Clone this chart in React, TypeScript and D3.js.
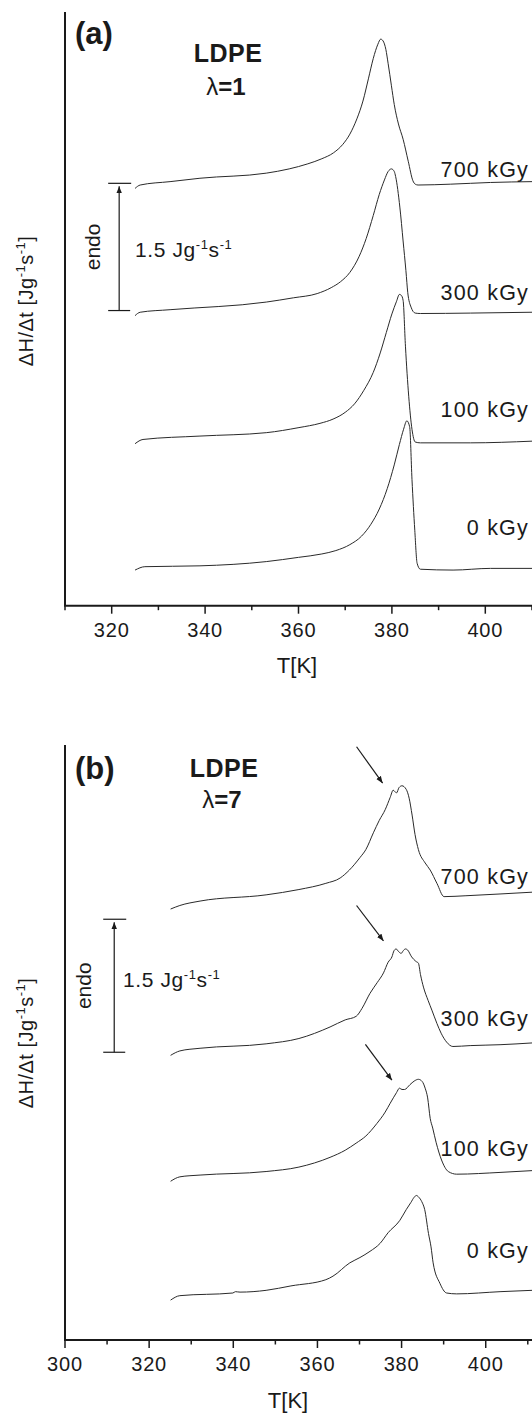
import * as d3 from "d3";

const W = 532;
const H = 1414;
const FONT = "'Liberation Sans', Arial, Helvetica, sans-serif";

type Pt = [number, number];

// dose labels, bottom to top
const doses = ["0 kGy", "100 kGy", "300 kGy", "700 kGy"];

// panel (a) LDPE λ=1 : [T (K), ΔH/Δt shifted (J/g/s)]
const a0: Pt[] = [[325.0, 0.42], [327.1, 0.46], [338.9, 0.47], [353.1, 0.52], [360.0, 0.57], [365.0, 0.61], [368.0, 0.65], [371.0, 0.72], [373.5, 0.82], [375.5, 0.96], [377.3, 1.14], [379.0, 1.38], [380.5, 1.66], [381.6, 1.90], [382.5, 2.08], [383.2, 2.18], [383.8, 2.11], [384.3, 1.49], [384.9, 0.89], [385.4, 0.50], [386.1, 0.43], [393.1, 0.42], [401.1, 0.44], [410, 0.44]];
const a100: Pt[] = [[325.0, 1.91], [326.7, 1.96], [338.9, 2.00], [353.1, 2.04], [360.1, 2.10], [364.6, 2.15], [367.4, 2.20], [370.0, 2.28], [372.0, 2.38], [374.0, 2.54], [376.0, 2.75], [377.5, 2.98], [378.8, 3.22], [380.0, 3.44], [381.0, 3.59], [381.6, 3.67], [382.0, 3.66], [382.4, 3.60], [382.9, 3.06], [383.6, 2.47], [384.3, 2.08], [385.0, 1.93], [386.1, 1.92], [396.8, 1.92], [410, 1.94]];
const a300: Pt[] = [[325.0, 3.42], [326.1, 3.46], [332.5, 3.49], [353.1, 3.58], [358.9, 3.63], [364.0, 3.68], [367.0, 3.75], [369.0, 3.82], [371.0, 3.93], [373.0, 4.12], [374.5, 4.33], [376.0, 4.60], [377.3, 4.85], [378.4, 5.02], [379.2, 5.12], [379.9, 5.15], [380.5, 5.12], [380.8, 5.06], [381.7, 4.70], [382.4, 4.30], [383.0, 3.95], [383.4, 3.69], [384.1, 3.52], [385.0, 3.45], [386.1, 3.445], [396.8, 3.45], [410, 3.46]];
const a700: Pt[] = [[325.0, 4.92], [326.1, 4.96], [332.5, 5.00], [338.9, 5.04], [353.1, 5.10], [358.0, 5.15], [362.0, 5.21], [365.0, 5.27], [367.5, 5.34], [369.5, 5.44], [371.0, 5.56], [372.5, 5.74], [373.8, 5.95], [375.0, 6.22], [376.0, 6.45], [377.0, 6.62], [377.6, 6.68], [378.1, 6.66], [378.7, 6.56], [379.2, 6.39], [379.9, 6.13], [380.5, 5.91], [381.4, 5.68], [382.4, 5.50], [383.5, 5.24], [384.5, 5.01], [385.0, 4.97], [385.6, 4.96], [392.5, 4.97], [401.1, 4.99], [410, 5.00]];

// panel (b) LDPE λ=7
const b0: Pt[] = [[325.1, 0.45], [327.3, 0.50], [339.9, 0.53], [340.5, 0.545], [341.6, 0.54], [347.8, 0.56], [353.7, 0.61], [362.0, 0.68], [363.7, 0.72], [367.7, 0.87], [370.1, 0.93], [372.5, 1.00], [374.9, 1.09], [376.8, 1.21], [379.6, 1.35], [381.1, 1.47], [382.2, 1.55], [383.0, 1.61], [383.5, 1.63], [384.1, 1.61], [384.8, 1.56], [385.5, 1.47], [386.4, 1.20], [387.0, 1.05], [387.5, 0.87], [389.1, 0.64], [390.7, 0.53], [393.1, 0.52], [403.4, 0.545], [411, 0.56]];
const b100: Pt[] = [[325.1, 1.79], [327.3, 1.84], [332.1, 1.86], [347.8, 1.90], [355.6, 1.95], [363.0, 2.06], [366.6, 2.14], [369.2, 2.22], [371.5, 2.30], [374.1, 2.44], [376.1, 2.57], [377.3, 2.67], [378.8, 2.79], [379.5, 2.84], [380.1, 2.825], [380.7, 2.825], [382.0, 2.88], [383.0, 2.92], [384.0, 2.94], [384.9, 2.915], [385.6, 2.84], [386.2, 2.73], [386.8, 2.50], [387.4, 2.39], [388.2, 2.23], [389.5, 2.03], [391.1, 1.90], [393.1, 1.87], [403.4, 1.89], [411, 1.91]];
const b300: Pt[] = [[325.1, 3.21], [327.3, 3.26], [332.1, 3.29], [347.8, 3.34], [355.6, 3.40], [363.0, 3.53], [366.6, 3.61], [369.2, 3.65], [370.6, 3.74], [372.5, 3.91], [374.2, 4.03], [375.7, 4.14], [376.8, 4.26], [377.7, 4.32], [378.2, 4.39], [378.7, 4.41], [379.3, 4.38], [379.9, 4.36], [380.4, 4.39], [380.9, 4.41], [381.4, 4.40], [382.4, 4.32], [383.4, 4.27], [384.0, 4.25], [384.5, 4.12], [385.2, 3.98], [386.3, 3.83], [387.2, 3.72], [388.4, 3.57], [389.4, 3.46], [390.7, 3.36], [392.2, 3.31], [396.3, 3.32], [403.4, 3.33], [411, 3.35]];
const b700: Pt[] = [[325.1, 4.86], [327.3, 4.90], [332.1, 4.95], [347.8, 5.02], [355.6, 5.08], [362.0, 5.15], [365.4, 5.21], [367.6, 5.30], [370.1, 5.44], [371.5, 5.53], [373.3, 5.72], [374.7, 5.86], [376.1, 5.98], [377.3, 6.12], [378.0, 6.20], [378.8, 6.17], [379.4, 6.23], [380.1, 6.25], [381.1, 6.21], [381.8, 6.11], [382.5, 5.92], [383.2, 5.70], [384.0, 5.53], [385.6, 5.38], [386.8, 5.30], [388.4, 5.15], [390.1, 5.00], [395.3, 5.01], [403.4, 5.03], [411, 5.05]];

// arrows pointing at the low-T shoulder in (b): [T1, v1, T2, v2]
const arrowsB: [number, number, number, number][] = [
  [369.3, 6.69, 375.5, 6.28],
  [369.3, 4.90, 375.7, 4.50],
  [371.4, 3.335, 377.7, 2.93],
];

interface PanelCfg {
  tag: string;
  lambda: string;
  xDomain: [number, number];
  yDomain: [number, number];
  top: number;
  bottom: number;
  curves: Pt[][];
  doseY: number[];
  scaleBar: { T: number; from: number; to: number; endoX: number; textX: number; textY: number };
  arrows: [number, number, number, number][];
  head: { tagY: number; ldpeX: number; ldpeY: number; lamY: number };
  yLabel: { x: number; y: number };
  xLabel: { x: number; y: number };
}

const panels: PanelCfg[] = [
  {
    tag: "(a)",
    lambda: "1",
    xDomain: [310, 410],
    yDomain: [0, 7],
    top: 12,
    bottom: 605.7,
    curves: [a0, a100, a300, a700],
    doseY: [0.83, 2.22, 3.61, 5.06],
    scaleBar: { T: 321.6, from: 3.48, to: 4.98, endoX: 100, textX: 135, textY: 257 },
    arrows: [],
    head: { tagY: 44, ldpeX: 228, ldpeY: 62, lamY: 95 },
    yLabel: { x: 33, y: 301 },
    xLabel: { x: 297, y: 673 },
  },
  {
    tag: "(b)",
    lambda: "7",
    xDomain: [300, 411],
    yDomain: [0, 6.71],
    top: 745,
    bottom: 1340,
    curves: [b0, b100, b300, b700],
    doseY: [0.92, 2.07, 3.54, 5.14],
    scaleBar: { T: 311.7, from: 3.245, to: 4.745, endoX: 91, textX: 123, textY: 987 },
    arrows: arrowsB,
    head: { tagY: 779, ldpeX: 224, ldpeY: 777, lamY: 808 },
    yLabel: { x: 33, y: 1043 },
    xLabel: { x: 288, y: 1408 },
  },
];

const INK = "#1a1a1a";

const Sup = ({ children }: { children: string }) => (
  <tspan dy={-8} fontSize={13}>
    {children}
  </tspan>
);

const Panel = ({ cfg, idx }: { cfg: PanelCfg; idx: number }) => {
  const x = d3.scaleLinear().domain(cfg.xDomain).range([65, 532]);
  const y = d3.scaleLinear().domain(cfg.yDomain).range([cfg.bottom, cfg.top]);
  const line = d3
    .line<Pt>()
    .x((d) => x(d[0]))
    .y((d) => y(d[1]))
    .curve(d3.curveMonotoneX);

  // ticks every 10 K, labels every 20 K
  const ticks = d3.range(Math.ceil(cfg.xDomain[0] / 10) * 10, cfg.xDomain[1] + 0.01, 10);
  const labelTicks = ticks.filter((t) => t % 20 === 0 && t <= 400);

  const sb = cfg.scaleBar;
  const sbx = x(sb.T);
  const mk = `arr${idx}`;

  return (
    <g fontFamily={FONT} fill={INK}>
      <defs>
        <marker id={mk} viewBox="0 0 10 10" refX="10" refY="5" markerWidth="7" markerHeight="7" orient="auto" markerUnits="userSpaceOnUse">
          <path d="M0,1 L10,5 L0,9 Z" fill={INK} />
        </marker>
      </defs>

      {/* axes */}
      <line x1={65} x2={65} y1={cfg.top} y2={cfg.bottom} stroke={INK} strokeWidth={2} />
      <line x1={64} x2={532} y1={cfg.bottom} y2={cfg.bottom} stroke={INK} strokeWidth={2} />
      {ticks.map((t) => (
        <line key={t} x1={x(t)} x2={x(t)} y1={cfg.bottom} y2={cfg.bottom + (t % 20 === 0 ? 8 : 4.5)} stroke={INK} strokeWidth={1.5} />
      ))}
      {labelTicks.map((t) => (
        <text key={t} x={x(t)} y={cfg.bottom + 31} textAnchor="middle" fontSize={20} letterSpacing={0.8}>
          {t}
        </text>
      ))}
      <text x={cfg.xLabel.x} y={cfg.xLabel.y} textAnchor="middle" fontSize={22}>
        T[K]
      </text>
      <text transform={`translate(${cfg.yLabel.x},${cfg.yLabel.y}) rotate(-90)`} textAnchor="middle" fontSize={20} letterSpacing={0.5}>
        <tspan>ΔH/Δt [Jg</tspan>
        <Sup>-1</Sup>
        <tspan dy={8}>s</tspan>
        <Sup>-1</Sup>
        <tspan dy={8}>]</tspan>
      </text>

      {/* curves */}
      {cfg.curves.map((c, i) => (
        <path key={i} d={line(c) ?? ""} fill="none" stroke="#2a2a2a" strokeWidth={1} />
      ))}
      {doses.map((d, i) => (
        <text key={d} x={529} y={y(cfg.doseY[i])} textAnchor="end" fontSize={21.5} letterSpacing={1.2}>
          {d}
        </text>
      ))}

      {/* shoulder arrows */}
      {cfg.arrows.map((a, i) => (
        <line key={i} x1={x(a[0])} y1={y(a[1])} x2={x(a[2])} y2={y(a[3])} stroke={INK} strokeWidth={1.2} markerEnd={`url(#${mk})`} />
      ))}

      {/* scale bar */}
      <line x1={sbx - 11} x2={sbx + 12} y1={y(sb.to)} y2={y(sb.to)} stroke={INK} strokeWidth={1.2} />
      <line x1={sbx - 11} x2={sbx + 11} y1={y(sb.from)} y2={y(sb.from)} stroke={INK} strokeWidth={1.2} />
      <line x1={sbx} x2={sbx} y1={y(sb.from)} y2={y(sb.to) + 3} stroke={INK} strokeWidth={1.2} markerEnd={`url(#${mk})`} />
      <text transform={`translate(${sb.endoX},${(y(sb.from) + y(sb.to)) / 2}) rotate(-90)`} textAnchor="middle" fontSize={21}>
        endo
      </text>
      <text x={sb.textX} y={sb.textY} fontSize={21} letterSpacing={0.6}>
        <tspan>1.5 Jg</tspan>
        <Sup>-1</Sup>
        <tspan dy={8}>s</tspan>
        <Sup>-1</Sup>
      </text>

      {/* headings */}
      <text x={75} y={cfg.head.tagY} fontSize={31} fontWeight="bold">
        {cfg.tag}
      </text>
      <text x={cfg.head.ldpeX} y={cfg.head.ldpeY} textAnchor="middle" fontSize={25} fontWeight="bold" letterSpacing={0.5}>
        LDPE
      </text>
      <text x={cfg.head.ldpeX - 2} y={cfg.head.lamY} textAnchor="middle" fontSize={24}>
        <tspan fontWeight="normal">λ</tspan>
        <tspan fontWeight="bold">={cfg.lambda}</tspan>
      </text>
    </g>
  );
};

export default function App() {
  return (
    <svg width={W} height={H} style={{ position: "absolute", left: 0, top: 0, background: "#fff" }}>
      <rect width={W} height={H} fill="#fff" />
      {panels.map((p, i) => (
        <Panel key={p.tag} cfg={p} idx={i} />
      ))}
    </svg>
  );
}
